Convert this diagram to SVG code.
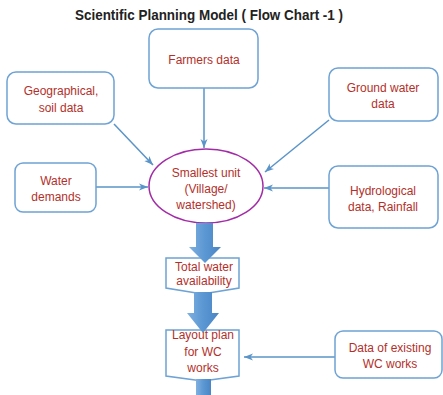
<svg xmlns="http://www.w3.org/2000/svg" width="443" height="395" viewBox="0 0 443 395">
<defs>
<marker id="ah" markerWidth="10" markerHeight="8" refX="9" refY="4" orient="auto" markerUnits="userSpaceOnUse">
<path d="M0,0.5 L9,4 L0,7.5 L2.5,4 Z" fill="#5a94c8"/>
</marker>
<linearGradient id="bg" x1="0" y1="0" x2="1" y2="0">
<stop offset="0" stop-color="#7fb0e0"/>
<stop offset="0.5" stop-color="#5b97d3"/>
<stop offset="1" stop-color="#4a85c4"/>
</linearGradient>
</defs>
<style>
.box{fill:#fff;stroke:#6ea3d4;stroke-width:1.5}
.t{font-family:"Liberation Sans",Arial,sans-serif;font-size:12px;fill:#b3302a;text-anchor:middle}
.c{stroke:#5a94c8;stroke-width:1.5;fill:none}
.blk{fill:url(#bg)}
</style>
<rect width="443" height="395" fill="#fff"/>
<text x="209" y="19.5" font-family="'Liberation Sans',Arial,sans-serif" font-size="14" font-weight="bold" fill="#222" text-anchor="middle" textLength="268" lengthAdjust="spacingAndGlyphs">Scientific Planning Model ( Flow Chart -1 )</text>

<g id="connectors">
<line class="c" x1="204" y1="88" x2="204" y2="148" marker-end="url(#ah)"/>
<line class="c" x1="114" y1="124" x2="153" y2="165" marker-end="url(#ah)"/>
<line class="c" x1="329" y1="120" x2="265" y2="172" marker-end="url(#ah)"/>
<line class="c" x1="96" y1="187" x2="148" y2="187" marker-end="url(#ah)"/>
<line class="c" x1="329" y1="188" x2="264" y2="188" marker-end="url(#ah)"/>
<line class="c" x1="335" y1="357" x2="244" y2="357" marker-end="url(#ah)"/>
</g>

<g id="farmers">
<rect class="box" x="149" y="29" width="109" height="59" rx="9"/>
<text class="t" x="204" y="64">Farmers data</text>
</g>
<g id="geographical">
<rect class="box" x="7" y="72" width="107" height="52" rx="9"/>
<text class="t" x="61" y="95">Geographical,</text>
<text class="t" x="61" y="112">soil data</text>
</g>
<g id="groundwater">
<rect class="box" x="329" y="68" width="109" height="53" rx="9"/>
<text class="t" x="383" y="92">Ground water</text>
<text class="t" x="383" y="108">data</text>
</g>
<g id="waterdemands">
<rect class="box" x="15" y="163" width="81" height="49" rx="8"/>
<text class="t" x="56" y="185">Water</text>
<text class="t" x="56" y="201">demands</text>
</g>
<g id="hydrological">
<rect class="box" x="329" y="166" width="109" height="62" rx="9"/>
<text class="t" x="383" y="195">Hydrological</text>
<text class="t" x="383" y="211">data, Rainfall</text>
</g>
<g id="smallest">
<ellipse cx="206" cy="186" rx="57" ry="37" fill="#fff" stroke="#a22ca6" stroke-width="1.5"/>
<text class="t" x="206" y="177" fill="#c0462a">Smallest unit</text>
<text class="t" x="206" y="193">(Village/</text>
<text class="t" x="206" y="209">watershed)</text>
</g>
<g id="total">
<path class="box" d="M166,258 L239,258 L239,288 L202.5,294 L166,288 Z"/>
<polygon class="blk" points="196,223 213,223 213,247 221,247 205,263 189,247 196,247"/>
<text class="t" x="204" y="271">Total water</text>
<text class="t" x="204" y="285">availability</text>
</g>
<g id="layout">
<path class="box" d="M166,330 L239,330 L239,376 L202.5,381 L166,376 Z"/>
<polygon class="blk" points="194,292 212,292 212,313 219,313 203,333 187,313 194,313"/>
<polygon class="blk" points="196,379 211,379 211,395 196,395"/>
<text class="t" x="203" y="339">Layout plan</text>
<text class="t" x="203" y="356">for WC</text>
<text class="t" x="203" y="372">works</text>
</g>
<g id="existing">
<rect class="box" x="335" y="331" width="107" height="47" rx="8"/>
<text class="t" x="390" y="352">Data of existing</text>
<text class="t" x="390" y="368">WC works</text>
</g>
</svg>
